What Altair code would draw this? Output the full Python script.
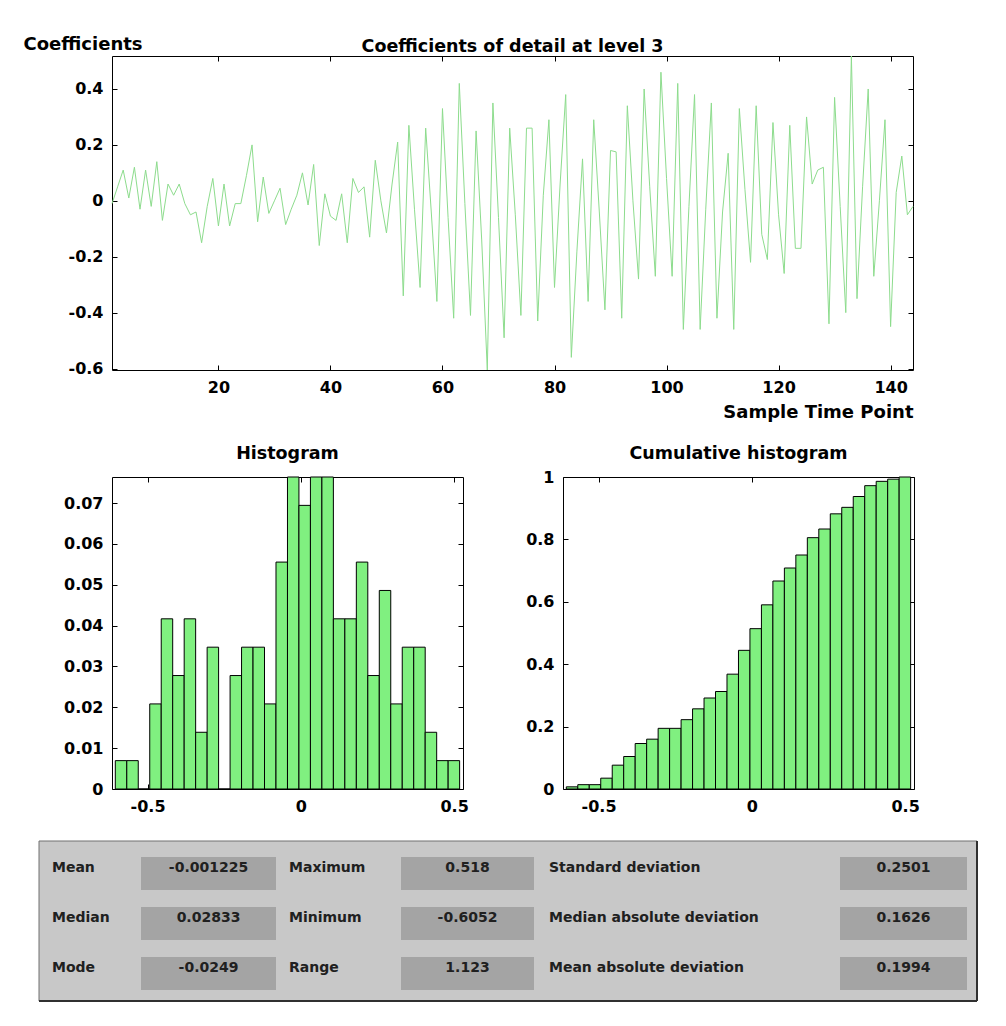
import altair as alt
import numpy as np
import pandas as pd

# ---------------- data ----------------
sample_index = list(range(1, 145))
coefficients = [
    -0.01, 0.05, 0.11, 0.01, 0.12, -0.03, 0.11, -0.02, 0.14, -0.07,
    0.06, 0.02, 0.06, -0.01, -0.05, -0.04, -0.15, -0.02, 0.08, -0.09,
    0.06, -0.09, -0.01, -0.01, 0.09, 0.20, -0.075, 0.085, -0.045, 0.00,
    0.045, -0.085, -0.03, 0.02, 0.10, -0.015, 0.13, -0.16, 0.025, -0.055,
    -0.07, 0.025, -0.15, 0.08, 0.03, 0.05, -0.13, 0.145, 0.00, -0.115,
    0.06, 0.21, -0.34, 0.27, -0.03, -0.31, 0.26, -0.04, -0.36, 0.33,
    -0.06, -0.42, 0.42, -0.01, -0.41, 0.25, -0.14, -0.6052, 0.35, -0.06,
    -0.49, 0.26, -0.05, -0.41, 0.26, 0.26, -0.43, 0.02, 0.29, -0.31,
    0.06, 0.38, -0.56, -0.18, 0.15, -0.36, 0.29, -0.04, -0.39, 0.18,
    0.175, -0.42, 0.34, 0.00, -0.28, 0.40, 0.05, -0.27, 0.46, 0.08,
    -0.27, 0.42, -0.46, -0.02, 0.38, -0.46, -0.03, 0.35, -0.42, -0.04,
    0.17, -0.46, 0.33, 0.04, -0.22, 0.34, -0.12, -0.21, 0.28, -0.05,
    -0.26, 0.27, -0.17, -0.17, 0.30, 0.06, 0.11, 0.12, -0.44, 0.37,
    -0.02, -0.40, 0.518, -0.35, 0.05, 0.40, -0.27, 0.00, 0.29, -0.45,
    0.03, 0.16, -0.05, -0.02,
]
hist_counts = [1, 1, 0, 3, 6, 4, 6, 2, 5, 0, 4, 5, 5, 3, 8,
               11, 10, 11, 11, 6, 6, 8, 4, 7, 3, 5, 5, 2, 1, 1]
n_samples = 144
coef_min, coef_max = -0.6052, 0.518

top_x_ticks = [20, 40, 60, 80, 100, 120, 140]
top_y_ticks = [-0.6, -0.4, -0.2, 0, 0.2, 0.4]
hist_x_ticks = [-0.5, 0, 0.5]
hist_y_ticks = [0, 0.01, 0.02, 0.03, 0.04, 0.05, 0.06, 0.07]
cum_y_ticks = [0, 0.2, 0.4, 0.6, 0.8, 1]

panel_titles = ["Coefficients of detail at level 3", "Histogram", "Cumulative histogram"]
stat_names = [["Mean", "Median", "Mode"],
              ["Maximum", "Minimum", "Range"],
              ["Standard deviation", "Median absolute deviation", "Mean absolute deviation"]]
stat_values = [["-0.001225", "0.02833", "-0.0249"],
               ["0.518", "-0.6052", "1.123"],
               ["0.2501", "0.1626", "0.1994"]]

# ---------------- styles / layout ----------------
FONT = "DejaVu Sans"
BAR_FILL = "#80f080"
LINE_COLOR = "#8ddc8d"
W_TOP, H_TOP = 801, 314
W_H, H_H = 351, 312
GAP_V, GAP_H = 107, 100
HIST_X0, HIST_Y0 = 111, 476          # page position of histogram plot area

TITLE_X = [511.5, 286.5, 737.5]
TITLE_Y = [51, 458, 458]
LBL_X = [51, 288, 548]
BOX_X0 = [140, 400, 839]
BOX_X1 = [275, 533, 966]
ROW_Y0 = [856, 906, 956]
BOX_H = 33
TEXT_DY = 11
PANEL = dict(x0=38, x1=976, y0=840, y1=1000)


def ax(orient, values, labels=True, **kw):
    base = dict(orient=orient, values=values, offset=-5, tickSize=5,
                tickColor="black", tickWidth=1, domain=False, grid=False,
                labelFlush=False, labelOverlap=False)
    if labels:
        base.update(labelFont=FONT, labelFontSize=16, labelFontWeight="bold",
                    labelColor="black", labelPadding=9,
                    labelExpr="'' + datum.value")
    else:
        base.update(labels=False)
    base.update(kw)
    return alt.Axis(**base)


# ---------------- top: detail coefficients ----------------
top_df = pd.DataFrame({"t": sample_index, "c": coefficients})
xs_top = alt.Scale(domain=[1, 144], nice=False, zero=False)
ys_top = alt.Scale(domain=[coef_min, coef_max], nice=False, zero=False)

line = alt.Chart(top_df).mark_line(color=LINE_COLOR, strokeWidth=1).encode(
    x=alt.X("t:Q", scale=xs_top,
            axis=ax("bottom", top_x_ticks, title="Sample Time Point",
                    titleFont=FONT, titleFontSize=18, titleFontWeight="bold",
                    titleColor="black", titleAlign="right",
                    titleBaseline="alphabetic", titleX=W_TOP, titleY=52)),
    y=alt.Y("c:Q", scale=ys_top,
            axis=ax("left", top_y_ticks, title="Coefficients",
                    titleFont=FONT, titleFontSize=18, titleFontWeight="bold",
                    titleColor="black", titleAngle=0, titleAlign="left",
                    titleBaseline="alphabetic", titleX=-94, titleY=-7)),
)
top_mirror = alt.Chart(top_df).mark_line(opacity=0).encode(
    x=alt.X("t:Q", scale=xs_top, axis=ax("top", top_x_ticks, labels=False), title=None),
    y=alt.Y("c:Q", scale=ys_top, axis=ax("right", top_y_ticks, labels=False), title=None),
)
top = alt.layer(line, top_mirror).resolve_axis(x="independent", y="independent").properties(
    width=W_TOP, height=H_TOP)

# ---------------- histogram tables ----------------
edges = np.linspace(coef_min, coef_max, len(hist_counts) + 1)
hist_df = pd.DataFrame({"x0": edges[:-1], "x1": edges[1:], "count": hist_counts})
hist_df["freq"] = hist_df["count"] / n_samples
hist_df["cum"] = hist_df["count"].cumsum() / n_samples

hx_dom = [-0.616, 0.529]


def hist_panel(field, ydom, yticks):
    xs = alt.Scale(domain=hx_dom, nice=False, zero=False)
    ys = alt.Scale(domain=ydom, nice=False, zero=False)
    bars = alt.Chart(hist_df).mark_rect(fill=BAR_FILL, stroke="black", strokeWidth=1).encode(
        x=alt.X("x0:Q", scale=xs, axis=ax("bottom", hist_x_ticks), title=None),
        x2="x1:Q",
        y=alt.Y(f"{field}:Q", scale=ys, axis=ax("left", yticks), title=None),
        y2=alt.datum(0),
    )
    mirror = alt.Chart(hist_df).mark_point(opacity=0).encode(
        x=alt.X("x0:Q", scale=xs, axis=ax("top", hist_x_ticks, labels=False), title=None),
        y=alt.Y(f"{field}:Q", scale=ys, axis=ax("right", yticks, labels=False), title=None),
    )
    return bars, mirror


h_bars, h_mirror = hist_panel("freq", [0, max(hist_counts) / n_samples], hist_y_ticks)
c_bars, c_mirror = hist_panel("cum", [0, 1], cum_y_ticks)

# ---------------- statistics panel & titles (page coordinates) ----------------
rows = []
for ci in range(3):
    for ri in range(3):
        rows.append(dict(name=stat_names[ci][ri], value=stat_values[ci][ri],
                         lx=LBL_X[ci], bx0=BOX_X0[ci], bx1=BOX_X1[ci],
                         bxm=(BOX_X0[ci] + BOX_X1[ci]) / 2,
                         by0=ROW_Y0[ri], by1=ROW_Y0[ri] + BOX_H,
                         ty=ROW_Y0[ri] + TEXT_DY))
stats_df = pd.DataFrame(rows)
panel_df = pd.DataFrame([PANEL])
edge_df = pd.DataFrame([
    dict(x0=PANEL["x0"], x1=PANEL["x1"], y0=PANEL["y1"], y1=PANEL["y1"]),
    dict(x0=PANEL["x1"], x1=PANEL["x1"], y0=PANEL["y0"], y1=PANEL["y1"]),
])
anchor_df = pd.DataFrame([dict(x0=8, x1=9, y0=8, y1=9)])
titles_df = pd.DataFrame({"text": panel_titles, "x": TITLE_X, "y": TITLE_Y})

PX = alt.Scale(domain=[HIST_X0, HIST_X0 + W_H], range=[0, W_H], nice=False, zero=False)
PY = alt.Scale(domain=[HIST_Y0, HIST_Y0 + H_H], range=[0, H_H], nice=False, zero=False)


def pxy(xf, yf):
    return dict(x=alt.X(xf, scale=PX, axis=None), y=alt.Y(yf, scale=PY, axis=None))


anchor = alt.Chart(anchor_df).mark_rect(fill="white").encode(
    **pxy("x0:Q", "y0:Q"), x2="x1:Q", y2="y1:Q")
titles = alt.Chart(titles_df).mark_text(
    align="center", baseline="alphabetic", font=FONT, fontSize=17.5,
    fontWeight="bold", color="black").encode(**pxy("x:Q", "y:Q"), text="text:N")
panel_bg = alt.Chart(panel_df).mark_rect(fill="#c8c8c8", stroke="#707070", strokeWidth=1).encode(
    **pxy("x0:Q", "y0:Q"), x2="x1:Q", y2="y1:Q")
panel_edges = alt.Chart(edge_df).mark_rule(color="#303030", strokeWidth=2).encode(
    **pxy("x0:Q", "y0:Q"), x2="x1:Q", y2="y1:Q")
boxes = alt.Chart(stats_df).mark_rect(fill="#a4a4a4").encode(
    **pxy("bx0:Q", "by0:Q"), x2="bx1:Q", y2="by1:Q")
labels = alt.Chart(stats_df).mark_text(
    align="left", baseline="middle", font=FONT, fontSize=14, fontWeight="bold",
    color="#202020").encode(**pxy("lx:Q", "ty:Q"), text="name:N")
values = alt.Chart(stats_df).mark_text(
    align="center", baseline="middle", font=FONT, fontSize=14, fontWeight="bold",
    color="#202020").encode(**pxy("bxm:Q", "ty:Q"), text="value:N")

hist = alt.layer(h_bars, h_mirror, anchor, titles, panel_bg, panel_edges, boxes, labels, values).resolve_scale(
    x="independent", y="independent").resolve_axis(x="independent", y="independent").properties(
    width=W_H, height=H_H)

cum = alt.layer(c_bars, c_mirror).resolve_axis(x="independent", y="independent").properties(
    width=W_H, height=H_H)

chart = alt.vconcat(
    top,
    alt.hconcat(hist, cum, spacing=GAP_H, bounds="flush"),
    spacing=GAP_V, bounds="flush",
).properties(padding=0, background="white").configure_view(stroke="black", strokeWidth=1)

chart.save("out.html", embed_options={"renderer": "svg", "actions": False})
